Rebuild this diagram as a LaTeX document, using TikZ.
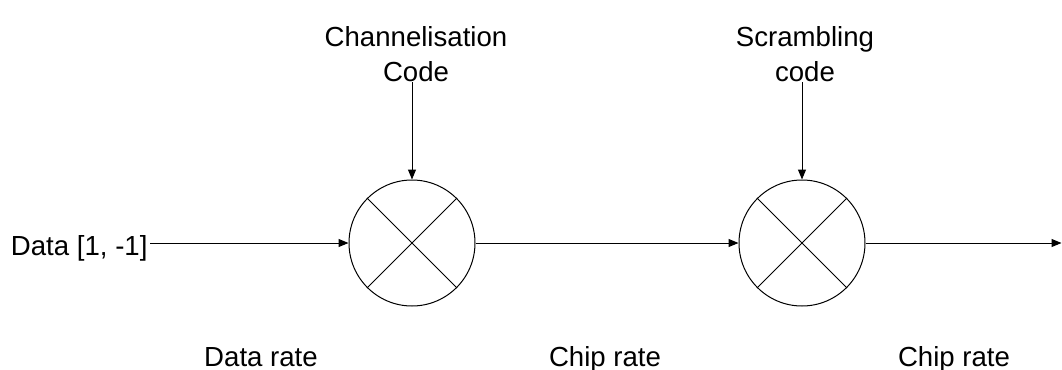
\documentclass[tikz,border=0pt]{standalone}
\usepackage{fontspec}
\setmainfont{Liberation Sans}
\usetikzlibrary{arrows.meta}

\begin{document}
\begin{tikzpicture}[x=0.5pt, y=-0.5pt, line width=0.5pt,
    every node/.style={font=\fontsize{13.8pt}{17.5pt}\selectfont},
    mixer/.style={draw, circle, minimum size=63pt, inner sep=0pt},
    flow/.style={-{Triangle[length=5pt, width=4pt]}}]
    \useasboundingbox (0,0) rectangle (1062,370);

    % Mixers
    \node[mixer] (m1) at (412,243) {};
    \node[mixer] (m2) at (802,243) {};
    \foreach \m in {m1, m2} {
        \draw (\m.45) -- (\m.225);
        \draw (\m.135) -- (\m.315);
    }

    % Labels
    \node[anchor=base east, inner sep=1pt] (data) at (150,255) {Data [1, -1]};
    \node[align=center, anchor=south, inner sep=0pt] (chcode) at (416,82) {Channelisation\\Code};
    \node[align=center, anchor=south, inner sep=0pt] (sccode) at (805,82) {Scrambling\\code};
    \node[anchor=base] (rate1) at (261,366) {Data rate};
    \node[anchor=base] (rate2) at (605,366) {Chip rate};
    \node[anchor=base] (rate3) at (954,366) {Chip rate};
    \coordinate (out) at (1061.5,243);

    % Arrows
    \draw[flow] (data.east |- m1) -- (m1);
    \draw[flow] (m1) -- (m2);
    \draw[flow] (m2) -- (out);
    \draw[flow] (chcode.south -| m1) -- (m1);
    \draw[flow] (sccode.south -| m2) -- (m2);
\end{tikzpicture}
\end{document}
